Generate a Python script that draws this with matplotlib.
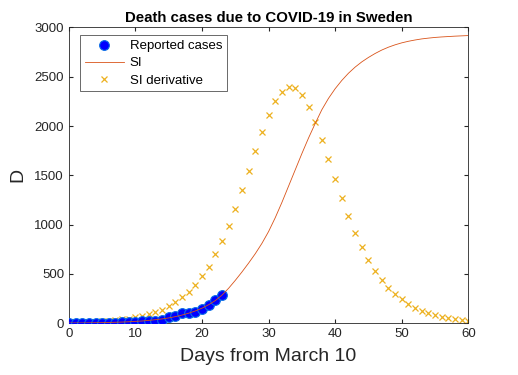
import numpy as np
import matplotlib
matplotlib.use("Agg")
import matplotlib.pyplot as plt

# reported cumulative deaths, day 0 = March 10
days_rep = list(range(0, 24))
deaths_rep = [0, 1, 1, 1, 2, 3, 6, 7, 10, 11, 16, 20, 21, 25, 36, 62,
              77, 105, 105, 110, 146, 180, 239, 282]

days_fit = list(range(0, 61))
si_fit = [2, 3, 3, 4, 5, 6, 8, 10, 12, 15,
          19, 23, 29, 36, 44, 54, 67, 83, 102, 125,
          153, 188, 230, 285, 355, 435, 520, 610, 705, 810,
          930, 1070, 1225, 1390, 1555, 1720, 1878, 2025, 2165, 2280,
          2378, 2462, 2535, 2597, 2650, 2695, 2735, 2770, 2799, 2823,
          2843, 2859, 2872, 2883, 2891, 2898, 2903, 2907, 2911, 2914,
          2917]

# SI derivative markers, one per day
si_deriv = [8, 10, 12, 14, 17, 21, 26, 32, 39, 48,
            61, 74, 91, 111, 138, 172, 213, 263, 320, 391,
            479, 574, 699, 834, 989, 1161, 1351, 1547, 1749, 1939,
            2114, 2253, 2347, 2398, 2388, 2314, 2195, 2040, 1858, 1662,
            1462, 1270, 1087, 918, 770, 642, 530, 436, 358, 294,
            243, 193, 155, 128, 104, 81, 64, 51, 41, 33,
            26]


def main():
    plt.rcParams["font.family"] = ["Liberation Sans", "DejaVu Sans"]
    fig = plt.figure(figsize=(5.18, 3.75), dpi=100)
    ax = fig.add_axes([0.133, 0.138, 0.771, 0.789])

    ax.plot(days_rep, deaths_rep, "o", color="#0000ff", mec="#0a6ee6", mew=0.8,
            ms=7, label="Reported cases", zorder=3)
    ax.plot(days_fit, si_fit, "-", color="#D95319", lw=0.6, label="SI", zorder=4)
    ax.plot(days_fit, si_deriv, "x", color="#EDB120", ms=5, mew=0.9,
            label="SI derivative", zorder=2)

    ax.set_xlim(0, 60)
    ax.set_ylim(0, 3000)
    ax.set_xticks(range(0, 61, 10))
    ax.set_yticks(range(0, 3001, 500))
    ax.tick_params(direction="in", top=True, right=True, labelsize=9.5,
                   length=3, color="#262626", labelcolor="#262626")
    for sp in ax.spines.values():
        sp.set_color("#262626")
        sp.set_linewidth(0.6)

    ax.set_title("Death cases due to COVID-19 in Sweden", fontsize=10.8,
                 fontweight="bold", pad=4)
    ax.set_xlabel("Days from March 10", fontsize=14, color="#262626", labelpad=6)
    ax.set_ylabel("D", fontsize=14, color="#262626", labelpad=6)

    leg = ax.legend(loc="upper left", bbox_to_anchor=(0.028, 0.973), fontsize=9.5,
                    frameon=True, fancybox=False, edgecolor="#262626",
                    handlelength=3.0, borderpad=0.35, labelspacing=0.38,
                    handletextpad=0.4, borderaxespad=0)
    leg.get_frame().set_linewidth(0.6)

    fig.savefig("out.png", dpi=100)


if __name__ == "__main__":
    main()
